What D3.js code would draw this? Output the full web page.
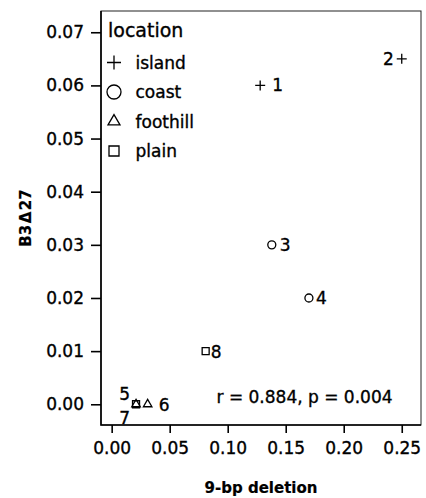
<!DOCTYPE html>
<html>
<head>
<meta charset="utf-8">
<script src="https://cdn.jsdelivr.net/npm/d3@7"></script>
<style>
  html, body { margin: 0; padding: 0; background: #fff; }
  svg { display: block; }
  text { font-family: "DejaVu Sans", sans-serif; fill: #000; stroke: #000; stroke-width: 0.35px; }
</style>
</head>
<body>
<svg id="chart" width="426" height="498"></svg>
<script>
// ---- data ----
const pointLabels = ["1", "2", "3", "4", "5", "6", "7", "8"];
const deletion9bp = [0.128, 0.25, 0.138, 0.17, 0.021, 0.031, 0.021, 0.081];
const b3d27 = [0.06, 0.065, 0.03, 0.02, 0.0, 0.0, 0.0, 0.01];
const locations = ["island", "island", "coast", "coast", "foothill", "foothill", "plain", "plain"];
const legendCategories = ["island", "coast", "foothill", "plain"];
const xTicks = [0.00, 0.05, 0.10, 0.15, 0.20, 0.25];
const yTicks = [0.00, 0.01, 0.02, 0.03, 0.04, 0.05, 0.06, 0.07];
const xTitle = "9-bp deletion";
const yTitle = "B3\u200AΔ\u200A27";
const legendTitle = "location";
const statText = "r = 0.884, p = 0.004";

// ---- layout ----
const W = 426, H = 498;
const m = { left: 101, top: 11, right: 5, bottom: 73 };
const svg = d3.select("#chart");

const x = d3.scaleLinear().domain([-0.0092, 0.2666]).range([m.left, W - m.right]);
const y = d3.scaleLinear().domain([-0.0039, 0.074]).range([H - m.bottom, m.top]);

// frame
svg.append("rect")
  .attr("x", m.left).attr("y", m.top)
  .attr("width", W - m.right - m.left).attr("height", H - m.bottom - m.top)
  .attr("fill", "none").attr("stroke", "#222").attr("stroke-width", 1);
svg.append("path")
  .attr("d", `M${m.left},${m.top}V${H - m.bottom}H${W - m.right}`)
  .attr("fill", "none").attr("stroke", "#000").attr("stroke-width", 1.6);

// axes
const yAxis = svg.append("g").attr("transform", `translate(${m.left},0)`)
  .call(d3.axisLeft(y).tickValues(yTicks).tickFormat(d3.format(".2f")).tickSize(10).tickPadding(7));
const xAxis = svg.append("g").attr("transform", `translate(0,${H - m.bottom})`)
  .call(d3.axisBottom(x).tickValues(xTicks).tickFormat(d3.format(".2f")).tickSize(8).tickPadding(9));
[yAxis, xAxis].forEach(g => {
  g.select(".domain").remove();
  g.selectAll(".tick line").attr("stroke", "#000").attr("stroke-width", 1.6);
  g.selectAll(".tick text").attr("font-family", "DejaVu Sans").attr("font-size", 17).attr("fill", "#000");
});

// titles
svg.append("text")
  .attr("x", (m.left + W - m.right) / 2).attr("y", 493)
  .attr("text-anchor", "middle").attr("font-weight", "bold").attr("font-size", 15)
  .style("stroke-width", "0.2px")
  .text(xTitle);
svg.append("text")
  .attr("transform", `translate(31,${(m.top + H - m.bottom) / 2}) rotate(-90)`)
  .attr("text-anchor", "middle").attr("font-weight", "bold").attr("font-size", 15)
  .style("stroke-width", "0.2px")
  .text(yTitle);

// symbol path generator (outline symbols)
function symPath(type, s) {
  const h = s / 2;
  if (type === "island") return `M${-h},0H${h}M0,${-h}V${h}`;
  if (type === "coast") return d3.arc()({ innerRadius: 0, outerRadius: h, startAngle: 0, endAngle: 2 * Math.PI });
  if (type === "foothill") {
    const th = s * Math.sqrt(3) / 2;
    return `M0,${-th * 2 / 3}L${h},${th / 3}L${-h},${th / 3}Z`;
  }
  return `M${-h},${-h}H${h}V${h}H${-h}Z`;
}
const plotSize = { island: 10, coast: 8, foothill: 8.5, plain: 7 };
const legendSize = { island: 14, coast: 14, foothill: 12, plain: 10 };

// points
const pts = pointLabels.map((lab, i) => ({ lab, xv: deletion9bp[i], yv: b3d27[i], loc: locations[i] }));
svg.append("g").selectAll("path").data(pts).join("path")
  .attr("transform", d => `translate(${x(d.xv)},${y(d.yv)})`)
  .attr("d", d => symPath(d.loc, plotSize[d.loc]))
  .attr("fill", "none").attr("stroke", "#000").attr("stroke-width", 1.3);

// point labels (placement relative to the point)
const place = {
  "1": { dx: 12, dy: 6, anchor: "start" },
  "2": { dx: -8, dy: 6, anchor: "end" },
  "3": { dx: 8, dy: 6, anchor: "start" },
  "4": { dx: 7, dy: 6, anchor: "start" },
  "5": { dx: -6, dy: -4, anchor: "end" },
  "6": { dx: 11, dy: 7, anchor: "start" },
  "7": { dx: -6, dy: 20, anchor: "end" },
  "8": { dx: 5, dy: 7, anchor: "start" }
};
svg.append("g").selectAll("text").data(pts).join("text")
  .attr("x", d => x(d.xv) + place[d.lab].dx)
  .attr("y", d => y(d.yv) + place[d.lab].dy)
  .attr("text-anchor", d => place[d.lab].anchor)
  .attr("font-size", 17)
  .text(d => d.lab);

// statistic annotation
svg.append("text")
  .attr("x", 304.5).attr("y", 403)
  .attr("text-anchor", "middle").attr("font-size", 17)
  .text(statText);

// legend
const lg = svg.append("g");
lg.append("text").attr("x", 108).attr("y", 36.5).attr("font-size", 19).text(legendTitle);
const items = lg.selectAll("g").data(legendCategories).join("g")
  .attr("transform", (d, i) => `translate(0,${68.5 + i * 29.5})`);
items.append("path")
  .attr("transform", "translate(114,-6)")
  .attr("d", d => symPath(d, legendSize[d]))
  .attr("fill", "none").attr("stroke", "#000").attr("stroke-width", 1.3);
items.append("text").attr("x", 135.5).attr("y", 0).attr("font-size", 17).text(d => d);
</script>
</body>
</html>
